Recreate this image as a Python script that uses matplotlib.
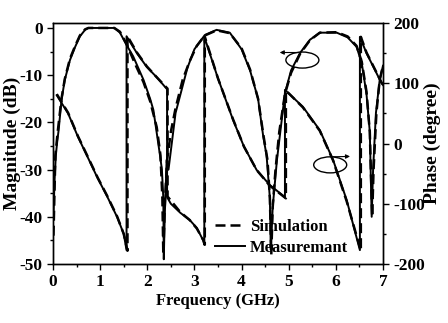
import matplotlib
matplotlib.use("Agg")
import matplotlib.pyplot as plt
from matplotlib.patches import Ellipse

plt.rcParams['font.family'] = ['Liberation Serif', 'DejaVu Serif']
plt.rcParams['font.weight'] = 'bold'
plt.rcParams['axes.unicode_minus'] = False

# measured S21 magnitude (GHz, dB)
mag_meas_f = [0.01, 0.03, 0.06, 0.09, 0.12, 0.18, 0.25, 0.36, 0.47, 0.57, 0.68, 0.75, 1.0, 1.3,
              1.42, 1.56, 1.7, 1.92, 2.06, 2.13, 2.27, 2.31, 2.34, 2.35, 2.37, 2.41, 2.45, 2.6,
              2.85, 3.0, 3.22, 3.47, 3.75, 4.0, 4.18, 4.35, 4.46, 4.53, 4.6, 4.62, 4.66, 4.75,
              4.92, 5.05, 5.24, 5.45, 5.66, 6.02, 6.25, 6.44, 6.55, 6.65, 6.72, 6.76, 6.79, 6.85,
              6.93, 7.0]
mag_meas_db = [-40, -33, -27, -24, -21.6, -15.3, -11, -6.8, -4, -1.8, -0.4, 0, 0, 0,
               -1, -3.6, -6, -11, -15, -17.4, -27, -30, -36, -49, -40, -28, -30, -18,
               -8.5, -4.5, -1.5, -0.4, -1, -4.5, -9, -15, -23, -27, -36, -47, -38, -28,
               -13.8, -9, -5.3, -2.5, -1, -1, -2, -4, -7.5, -14, -22, -40, -30, -18,
               -11, -8]

# simulated S21 magnitude
mag_sim_f = [0.01, 0.05, 0.1, 0.18, 0.25, 0.36, 0.47, 0.57, 0.68, 0.75, 1.3, 1.42, 1.56, 1.75,
             1.92, 2.06, 2.2, 2.28, 2.32, 2.34, 2.37, 2.42, 2.5, 2.6, 2.75, 2.9, 3.05, 3.22,
             3.47, 3.75, 4.0, 4.18, 4.35, 4.46, 4.55, 4.6, 4.63, 4.66, 4.72, 4.8, 4.92, 5.05,
             5.24, 5.45, 5.66, 6.02, 6.25, 6.44, 6.55, 6.65, 6.72, 6.77, 6.8, 6.86, 6.93, 7.0]
mag_sim_db = [-44, -27, -22, -15, -10.8, -6.5, -3.8, -1.6, -0.3, 0, 0, -0.8, -3.4, -7.8,
              -11.5, -15.5, -21, -27, -36, -48, -38, -28, -22, -17, -11, -7, -3.8, -1.6,
              -0.5, -1.1, -4.3, -8.8, -15, -22.5, -28, -36, -48, -38, -30, -22, -14, -9.5,
              -5.5, -2.6, -1, -0.9, -1.8, -3.8, -7.2, -13.5, -22, -40, -30, -18, -11, -8]

# measured S21 phase (GHz, degree)
ph_meas_f = [0.08, 0.32, 0.53, 0.75, 0.95, 1.15, 1.36, 1.5, 1.56, 1.56, 1.78, 1.99, 2.2, 2.42,
             2.42, 2.5, 2.7, 2.9, 3.05, 3.18, 3.21, 3.21, 3.5, 3.82, 4.05, 4.32, 4.6, 4.92,
             4.92, 5.3, 5.66, 5.94, 6.23, 6.51, 6.51, 6.65, 6.97, 7.0]
ph_meas_deg = [80, 50, 11, -25, -58, -88, -122, -150, -177, 178, 150, 127, 110, 90,
               -89, -100, -115, -127, -140, -160, -168, 177, 108, 39, -5, -44, -69, -89,
               89, 61, 22, -27, -94, -177, 177, 150, 100, 97]

# simulated S21 phase
ph_sim_f = [0.08, 0.32, 0.53, 0.75, 0.95, 1.15, 1.36, 1.5, 1.58, 1.58, 1.78, 1.99, 2.2, 2.43,
            2.43, 2.7, 2.9, 3.05, 3.2, 3.22, 3.22, 3.5, 3.82, 4.05, 4.32, 4.6, 4.94,
            4.94, 5.3, 5.66, 5.94, 6.23, 6.53, 6.53, 6.65, 6.97, 7.0]
ph_sim_deg = [82, 51, 12, -24, -57, -87, -121, -150, -178, 178, 151, 128, 110, 91,
              -88, -114, -127, -141, -162, -168, 177, 108, 40, -5, -44, -70, -91,
              88, 60, 21, -28, -96, -178, 177, 151, 101, 98]

fig = plt.figure(figsize=(4.48, 3.23), dpi=100)
ax1 = fig.add_axes([53 / 448, 1 - 264 / 323, 330 / 448, 241 / 323])
ax2 = ax1.twinx()

ax1.plot(mag_sim_f, mag_sim_db, 'k--', lw=1.8, dashes=(4, 2), label='Simulation')
ax1.plot(mag_meas_f, mag_meas_db, 'k-', lw=1.4, label='Measuremant')
ax2.plot(ph_sim_f, ph_sim_deg, 'k--', lw=1.8, dashes=(4, 2))
ax2.plot(ph_meas_f, ph_meas_deg, 'k-', lw=1.4)

ax1.set_xlim(0, 7)
ax1.set_ylim(-50, 1.05)
ax2.set_ylim(-200, 200)
ax1.set_xticks(range(0, 8))
ax1.set_xticks([i + 0.5 for i in range(7)], minor=True)
ax1.set_yticks(range(-50, 1, 10))
ax1.set_yticks(range(-45, 0, 10), minor=True)
ax2.set_yticks(range(-200, 201, 100))
ax2.set_yticks(range(-150, 200, 100), minor=True)

for a in (ax1, ax2):
    a.tick_params(which='major', direction='out', length=4, width=1, labelsize=12.5)
    a.tick_params(which='minor', direction='out', length=2.5, width=1)
    for s in a.spines.values():
        s.set_linewidth(1)

ax1.set_xlabel('Frequency (GHz)', fontsize=12, fontweight='bold', labelpad=2)
ax1.set_ylabel('Magnitude (dB)', fontsize=14, fontweight='bold')
ax2.set_ylabel('Phase (degree)', fontsize=14, fontweight='bold')
ax1.yaxis.set_label_coords(-0.098, 0.5)
ax2.yaxis.set_label_coords(1.124, 0.5)

# ellipses marking which axis each curve belongs to
ax1.add_patch(Ellipse((5.29, -6.8), 0.70, 3.4, fill=False, lw=1, ec='k'))
ax1.annotate('', xy=(4.75, -5.2), xytext=(5.25, -5.2),
             arrowprops=dict(arrowstyle='-|>', lw=0.8, color='k', mutation_scale=6))
ax1.add_patch(Ellipse((5.88, -29), 0.70, 3.4, fill=False, lw=1, ec='k'))
ax1.annotate('', xy=(6.36, -27.2), xytext=(5.88, -27.3),
             arrowprops=dict(arrowstyle='-|>', lw=0.8, color='k', mutation_scale=6))

ax1.legend(loc='upper left', bbox_to_anchor=(0.47, 0.215), frameon=False, fontsize=12,
           handlelength=1.8, handletextpad=0.3, labelspacing=0.3, borderaxespad=0)

fig.savefig('out.png', dpi=100)
